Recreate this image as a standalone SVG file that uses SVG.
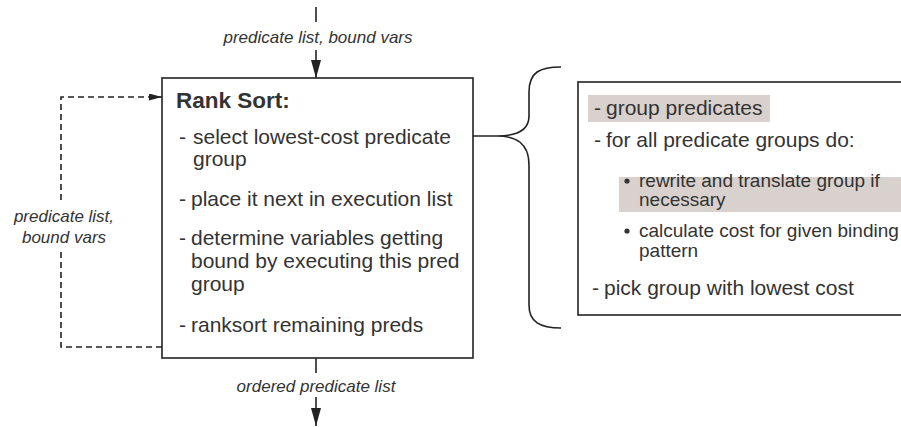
<svg xmlns="http://www.w3.org/2000/svg" width="901" height="427" viewBox="0 0 901 427">
  <style>
    .txt { font-family: "Liberation Sans", Arial, sans-serif; fill: #333; }
    .item { font-size: 21px; }
    .sub { font-size: 19px; }
    .lbl { font-size: 17px; font-style: italic; }
    .title { font-size: 22.5px; font-weight: bold; }
    .box { fill: #fff; stroke: #222; stroke-width: 1.6; }
    .line { fill: none; stroke: #222; stroke-width: 1.6; }
    .dash { fill: none; stroke: #222; stroke-width: 1.6; stroke-dasharray: 6 4; }
    .hl { fill: #d9d1cd; }
  </style>
  <defs>
    <marker id="arrow" viewBox="0 0 18 10" refX="18" refY="5" markerWidth="18" markerHeight="10" markerUnits="userSpaceOnUse" orient="auto">
      <path d="M0,0 L18,5 L0,10 Z" fill="#222"/>
    </marker>
    <marker id="arrowSmall" viewBox="0 0 13 7" refX="13" refY="3.5" markerWidth="13" markerHeight="7" markerUnits="userSpaceOnUse" orient="auto">
      <path d="M0,0 L13,3.5 L0,7 Z" fill="#222"/>
    </marker>
  </defs>

  <rect width="901" height="427" fill="#fff"/>

  <!-- connectors -->
  <g id="connectors">
    <line class="line" x1="316" y1="7" x2="316" y2="22"/>
    <line class="line" x1="316" y1="50" x2="316" y2="78" marker-end="url(#arrow)"/>
    <line class="line" x1="316" y1="358" x2="316" y2="373"/>
    <line class="line" x1="316" y1="397" x2="316" y2="426" marker-end="url(#arrow)"/>
    <path class="dash" d="M162,347 H61 V250"/>
    <path class="dash" d="M61,200 V97 H162" marker-end="url(#arrowSmall)"/>
    <line class="line" x1="461" y1="136" x2="497" y2="136"/>
    <!-- curly brace opening onto the detail box -->
    <path class="line" d="M561,67 C540,67 529,72 529,92 V116 C529,130 518,136 497,136 C515,136 529,142 529,165 V305 C529,322 540,328 561,328"/>
    <text class="txt lbl" x="318" y="43" text-anchor="middle">predicate list, bound vars</text>
    <text class="txt lbl" x="316" y="392" text-anchor="middle">ordered predicate list</text>
    <text class="txt lbl" x="64" y="222" text-anchor="middle">predicate list,</text>
    <text class="txt lbl" x="64" y="243" text-anchor="middle">bound vars</text>
  </g>

  <!-- Rank Sort node -->
  <g id="rank-sort">
    <rect class="box" x="162" y="78" width="311" height="280"/>
    <text class="txt title" x="176" y="108">Rank Sort:</text>
    <text class="txt item" x="179" y="144">-</text>
    <text class="txt item" x="193" y="144">select lowest-cost predicate</text>
    <text class="txt item" x="193" y="166">group</text>
    <text class="txt item" x="179" y="206">-</text>
    <text class="txt item" x="191" y="206">place it next in execution list</text>
    <text class="txt item" x="179" y="245">-</text>
    <text class="txt item" x="191" y="245">determine variables getting</text>
    <text class="txt item" x="191" y="268">bound by executing this pred</text>
    <text class="txt item" x="191" y="291">group</text>
    <text class="txt item" x="179" y="332">-</text>
    <text class="txt item" x="191" y="332">ranksort remaining preds</text>
  </g>

  <!-- group selection detail node -->
  <g id="group-selection">
    <rect class="box" x="578" y="82" width="340" height="233"/>
    <rect class="hl" x="588" y="95" width="182" height="27"/>
    <rect class="hl" x="619" y="177" width="290" height="35"/>
    <text class="txt item" x="594" y="115">-</text>
    <text class="txt item" x="606" y="115">group predicates</text>
    <text class="txt item" x="594" y="147">-</text>
    <text class="txt item" x="606" y="147">for all predicate groups do:</text>
    <circle cx="627" cy="181" r="2.6" fill="#333"/>
    <text class="txt sub" x="639" y="187">rewrite and translate group if</text>
    <text class="txt sub" x="639" y="206">necessary</text>
    <circle cx="627" cy="231" r="2.6" fill="#333"/>
    <text class="txt sub" x="639" y="237">calculate cost for given binding</text>
    <text class="txt sub" x="639" y="257">pattern</text>
    <text class="txt item" x="592" y="295">-</text>
    <text class="txt item" x="604" y="295">pick group with lowest cost</text>
  </g>
</svg>
